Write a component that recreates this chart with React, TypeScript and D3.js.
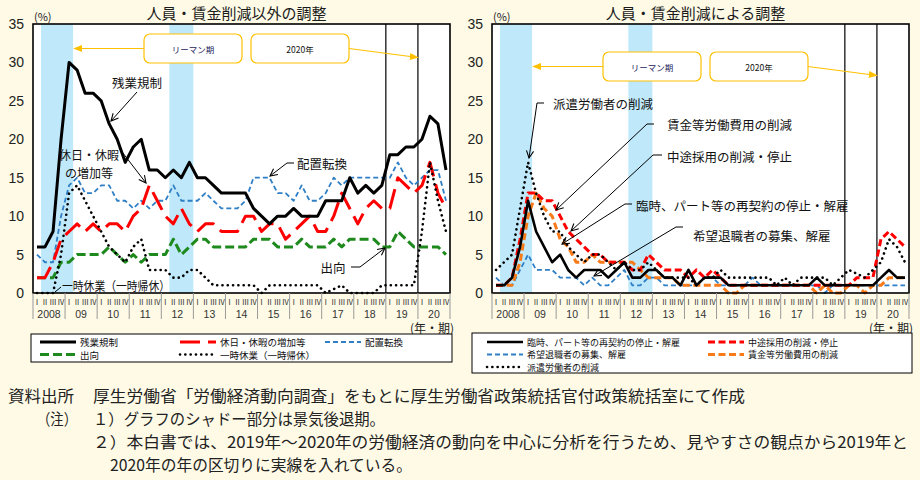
import * as d3 from 'd3';

// quarters 2008Q1 .. 2020Q4
const YEARS = ['2008', '09', '10', '11', '12', '13', '14', '15', '16', '17', '18', '19', '20'];
const Q_LABELS = ['Ⅰ', 'Ⅱ', 'Ⅲ', 'Ⅳ'];
const QUARTERS = YEARS.flatMap((y) => Q_LABELS.map((q) => `${y}${q}`));
const Y_TICKS = [0, 5, 10, 15, 20, 25, 30, 35];
const RECESSIONS = [['2008Ⅱ', '09Ⅰ'], ['12Ⅱ', '12Ⅳ']];
const BREAKS = ['19Ⅰ', '20Ⅰ'];

// 人員・賃金削減以外の調整 (%)
const ZANGYO = [6, 6, 8, 20, 30, 29, 26, 26, 25, 22, 20, 17, 19, 20, 16, 16, 15, 16, 15, 17, 15, 15, 14, 13, 13, 13, 13, 11, 10, 9, 10, 10, 11, 10, 10, 10, 12, 12, 12, 15, 13, 14, 13, 14, 18, 18, 19, 19, 20, 23, 22, 16];
const KYUJITSU = [2, 2, 4, 7, 8, 9, 8, 9, 8, 9, 9, 8, 10, 11, 14, 12, 10, 9, 11, 9, 8, 9, 9, 8, 8, 8, 10, 10, 8, 9, 9, 7, 8, 9, 10, 8, 8, 10, 13, 11, 9, 11, 12, 11, 11, 15, 14, 13, 14, 17, 13, 11];
const HAICHI = [5, 4, 4, 10, 14, 15, 13, 13, 14, 14, 12, 12, 11, 12, 11, 12, 12, 14, 12, 12, 12, 13, 12, 11, 11, 11, 12, 15, 15, 15, 13, 13, 12, 14, 12, 12, 13, 15, 14, 15, 15, 15, 15, 15, 15, 17, 15, 14, 15, 16, 16, 12];
const SHUKKO = [2, 2, 2, 4, 4, 5, 5, 5, 5, 6, 5, 4, 5, 4, 5, 5, 5, 7, 5, 6, 7, 7, 6, 6, 6, 6, 6, 7, 7, 7, 6, 6, 6, 7, 6, 6, 6, 7, 6, 7, 7, 7, 7, 6, 6, 8, 7, 6, 6, 6, 6, 5];
const ICHIJI = [0, 0, 0, 5, 13, 14, 12, 10, 8, 6, 5, 4, 6, 7, 3, 3, 3, 2, 2, 3, 3, 2, 1, 1, 1, 1, 1, 1, 0, 1, 1, 1, 1, 1, 1, 1, 0, 0.5, 1, 0, 0, 0, 0, 1, 1, 1, 1, 1, 8, 17, 12, 8];

// 人員・賃金削減による調整 (%)
const RINJI = [1, 1, 2, 6, 12, 8, 6, 4, 5, 3, 2, 3, 3, 3, 2, 3, 4, 2, 2, 3, 3, 2, 2, 1, 3, 1, 2, 2, 2, 1, 1, 1, 1, 1, 1, 1, 1, 1, 1, 1, 2, 1, 1, 1, 1, 1, 1, 1, 2, 3, 2, 2];
const CHUTO = [1, 1, 2, 7, 13, 13, 12, 12, 10, 8, 7, 6, 5, 5, 4, 4, 4, 3, 3, 5, 4, 3, 3, 3, 2, 3, 2, 3, 2, 1, 1, 1, 1, 1, 1, 1, 1, 1, 1, 1, 1, 1, 1, 1, 1, 2, 2, 2, 7, 8, 7, 6];
const KIBO = [2, 1, 1, 3, 5, 3, 3, 3, 2, 2, 2, 1, 2, 1, 1, 2, 3, 1, 1, 2, 2, 1, 1, 1, 1, 1, 2, 2, 1, 1, 1, 1, 2, 1, 1, 1, 1, 1, 1, 1, 1, 0, 1, 1, 1, 1, 1, 1, 1, 1, 1, 1];
const CHINGIN = [1, 1, 1, 4, 10, 13, 11, 10, 7, 6, 4, 4, 5, 4, 4, 4, 4, 4, 3, 2, 2, 2, 2, 1, 1, 1, 1, 1, 1, 0, 0, 1, 1, 1, 1, 1, 1, 1, 1, 1, 0, 1, 0, 0, 1, 1, 0, 1, 1, 2, 2, 2];
const HAKEN = [3, 4, 5, 11, 17, 13, 10, 8, 8, 6, 5, 4, 5, 5, 4, 3, 4, 3, 3, 4, 3, 2, 2, 2, 2, 1, 2, 2, 3, 2, 2, 2, 2, 2, 2, 1, 2, 1, 2, 2, 2, 2, 1, 2, 3, 2.5, 2, 3, 4, 7, 6, 4];

const BG = '#FEFAE6';
const JP = "'Noto Sans CJK JP', 'Noto Sans', sans-serif";
const NUM = "'Liberation Sans', Arial, sans-serif";
const TOP = 24;
const BOTTOM = 293;
const GOLD = '#FFC000';

type Style = { color: string; width: number; dash?: string; cap?: 'round' | 'butt' };
type Series = { name: string; values: number[]; style: Style };

const DOT: Style = { color: '#000', width: 2.6, dash: '0.1 5.2', cap: 'round' };

const LEFT_SERIES: Series[] = [
  { name: '出向', values: SHUKKO, style: { color: '#1E8A1E', width: 3, dash: '9 4' } },
  { name: '配置転換', values: HAICHI, style: { color: '#2F7FC6', width: 1.8, dash: '5 3' } },
  { name: '休日・休暇の増加等', values: KYUJITSU, style: { color: '#FF0000', width: 3, dash: '20 8' } },
  { name: '一時休業（一時帰休）', values: ICHIJI, style: DOT },
  { name: '残業規制', values: ZANGYO, style: { color: '#000', width: 3 } },
];

const RIGHT_SERIES: Series[] = [
  { name: '希望退職者の募集、解雇', values: KIBO, style: { color: '#2F7FC6', width: 1.8, dash: '5 3' } },
  { name: '賃金等労働費用の削減', values: CHINGIN, style: { color: '#F87A18', width: 3, dash: '7 3.5' } },
  { name: '中途採用の削減・停止', values: CHUTO, style: { color: '#FF0000', width: 3, dash: '7 3.5' } },
  { name: '派遣労働者の削減', values: HAKEN, style: DOT },
  { name: '臨時、パート等の再契約の停止・解雇', values: RINJI, style: { color: '#000', width: 2.6 } },
];

function makeScales(x0: number, x1: number) {
  const x = d3.scaleBand<string>().domain(QUARTERS).range([x0, x1]);
  const y = d3.scaleLinear().domain([0, 35]).range([BOTTOM, TOP]);
  const cx = (i: number) => (x(QUARTERS[i]) as number) + x.bandwidth() / 2;
  return { x, y, cx };
}

function LineSample({ x1, x2, y, style }: { x1: number; x2: number; y: number; style: Style }) {
  return (
    <line
      x1={x1}
      x2={x2}
      y1={y}
      y2={y}
      stroke={style.color}
      strokeWidth={style.width}
      strokeDasharray={style.dash}
      strokeLinecap={style.cap || 'butt'}
    />
  );
}

function Panel({ x0, x1, title, series, boxY }: { x0: number; x1: number; title: string; series: Series[]; boxY: number }) {
  const { x, y, cx } = makeScales(x0, x1);
  const bw = x.bandwidth();
  const line = d3
    .line<number>()
    .x((_, i) => cx(i))
    .y((v) => y(v));
  const yearX = YEARS.map((yr) => x(`${yr}Ⅰ`) as number);
  const lehmanEnd = (x(RECESSIONS[0][1]) as number) + bw;
  const x2020 = x('20Ⅰ') as number;
  const boxMid = boxY + 14.5;

  return (
    <g>
      <text x={(x0 + x1) / 2 - 5} y={12} textAnchor="middle" dominantBaseline="central" fontSize={15} fontFamily={JP} fill="#1a1a1a">
        {title}
      </text>
      <text x={x0 + 1} y={16} dominantBaseline="central" fontSize={11} fontFamily={JP} fill="#222">
        (%)
      </text>
      {Y_TICKS.map((t) => (
        <text key={t} x={x0 - 9} y={y(t)} textAnchor="end" dominantBaseline="central" fontSize={14} fontFamily={NUM} fill="#222">
          {t}
        </text>
      ))}
      <rect x={x0} y={TOP} width={x1 - x0} height={BOTTOM - TOP} fill="#fff" />
      {RECESSIONS.map(([s, e]) => (
        <rect
          key={s}
          x={x(s)}
          y={TOP}
          width={(x(e) as number) + bw - (x(s) as number)}
          height={BOTTOM - TOP}
          fill="#BFE9FA"
        />
      ))}
      {BREAKS.map((b) => (
        <line key={b} x1={x(b)} x2={x(b)} y1={TOP} y2={BOTTOM} stroke="#000" strokeWidth={1.2} />
      ))}
      {series.map((s) => (
        <path
          key={s.name}
          d={line(s.values) || ''}
          fill="none"
          stroke={s.style.color}
          strokeWidth={s.style.width}
          strokeDasharray={s.style.dash}
          strokeLinecap={s.style.cap || 'butt'}
          strokeLinejoin="round"
        />
      ))}
      <rect x={x0} y={TOP} width={x1 - x0} height={BOTTOM - TOP} fill="none" stroke="#000" strokeWidth={1.6} />

      {/* x axis: quarters + years */}
      {QUARTERS.map((q, i) => (
        <text key={q} x={cx(i)} y={301.5} textAnchor="middle" dominantBaseline="central" fontSize={7.5} fontFamily={JP} fill="#333">
          {Q_LABELS[i % 4]}
        </text>
      ))}
      {[...yearX, x1].map((xx, i) => (
        <line key={i} x1={xx} x2={xx} y1={BOTTOM} y2={319} stroke="#999" strokeWidth={1} />
      ))}
      {YEARS.map((yr, i) => (
        <text key={yr} x={yearX[i] + bw * 2} y={314} textAnchor="middle" dominantBaseline="central" fontSize={10.5} fontFamily={NUM} fill="#333">
          {yr}
        </text>
      ))}
      <text x={x1 + 4} y={327} textAnchor="end" dominantBaseline="central" fontSize={12} fontFamily={JP} fill="#222">
        (年・期)
      </text>

      {/* callouts */}
      <rect x={x0 + 111} y={boxY} width={98} height={29} rx={6} fill="#fff" stroke={GOLD} strokeWidth={1.2} />
      <text x={x0 + 160} y={boxMid} textAnchor="middle" dominantBaseline="central" fontSize={8.5} fontFamily={JP} fill="#1a1a5a">
        リーマン期
      </text>
      <line x1={x0 + 111} x2={lehmanEnd + 1} y1={boxMid} y2={boxMid} stroke={GOLD} strokeWidth={1.2} markerEnd="url(#gold)" />
      <rect x={x0 + 218} y={boxY} width={98} height={29} rx={6} fill="#fff" stroke={GOLD} strokeWidth={1.2} />
      <text x={x0 + 267} y={boxMid} textAnchor="middle" dominantBaseline="central" fontSize={8.5} fontFamily={JP} fill="#111">
        2020年
      </text>
      <line x1={x0 + 316} x2={x2020} y1={boxMid} y2={boxMid + 9} stroke={GOLD} strokeWidth={1.2} markerEnd="url(#gold)" />
    </g>
  );
}

function Note({ x, y, text, len }: { x: number; y: number; text: string; len?: number }) {
  return (
    <text
      x={x}
      y={y}
      dominantBaseline="central"
      fontSize={15.5}
      fontFamily="'Noto Sans CJK JP', serif"
      fill="#222"
      textLength={len}
      lengthAdjust={len ? 'spacingAndGlyphs' : undefined}
    >
      {text}
    </text>
  );
}

function Label({ x, y, text, anchor, len, size }: { x: number; y: number; text: string; anchor?: string; len?: number; size?: number }) {
  return (
    <text
      x={x}
      y={y}
      textAnchor={anchor || 'start'}
      dominantBaseline="central"
      fontSize={size || 12.5}
      fontFamily={JP}
      fill="#111"
      textLength={len}
      lengthAdjust={len ? 'spacingAndGlyphs' : undefined}
    >
      {text}
    </text>
  );
}

function Leader({ pts }: { pts: [number, number][] }) {
  return <polyline points={pts.map((p) => p.join(',')).join(' ')} fill="none" stroke="#000" strokeWidth={1} markerEnd="url(#vhead)" />;
}

function Legend({ items, size }: { items: { s: Series; x: number; y: number }[]; size: number }) {
  return (
    <g>
      {items.map(({ s, x, y }) => (
        <g key={s.name}>
          <LineSample x1={x} x2={x + 36} y={y} style={s.style} />
          <text x={x + 40} y={y} dominantBaseline="central" fontSize={size} fontFamily={JP} fill="#111">
            {s.name}
          </text>
        </g>
      ))}
    </g>
  );
}

export default function App() {
  return (
    <div style={{ position: 'absolute', left: 0, top: 0, width: 920, height: 480, background: BG }}>
      <svg width={920} height={480} style={{ display: 'block' }}>
        <defs>
          <marker id="gold" viewBox="0 0 10 10" refX="9" refY="5" markerWidth="9" markerHeight="9" markerUnits="userSpaceOnUse" orient="auto">
            <path d="M0,1 L10,5 L0,9 Z" fill={GOLD} />
          </marker>
          <marker id="vhead" viewBox="0 0 10 10" refX="9" refY="5" markerWidth="9" markerHeight="9" markerUnits="userSpaceOnUse" orient="auto">
            <path d="M1,1 L9,5 L1,9" fill="none" stroke="#000" strokeWidth={1.2} />
          </marker>
        </defs>
        <rect width={920} height={480} fill={BG} />

        <Panel x0={33} x1={450} title="人員・賃金削減以外の調整" series={LEFT_SERIES} boxY={34} />
        <Panel x0={492} x1={909} title="人員・賃金削減による調整" series={RIGHT_SERIES} boxY={52} />

        {/* left annotations */}
        <Label x={137} y={82} text="残業規制" anchor="middle" />
        <Leader pts={[[137, 92], [111, 121]]} />
        <Label x={89} y={154} text="休日・休暇" anchor="middle" size={12} />
        <Label x={89} y={172} text="の増加等" anchor="middle" size={12} />
        <Leader pts={[[119, 148], [146, 183]]} />
        <Label x={297} y={163} text="配置転換" />
        <Leader pts={[[294, 163], [287, 163], [270, 176]]} />
        <Label x={333} y={267} text="出向" anchor="middle" />
        <Leader pts={[[351, 267], [360, 267], [385, 248]]} />
        <Label x={62} y={285} text="一時休業（一時帰休）" len={108} />
        <line x1={55} y1={292} x2={61} y2={287} stroke="#000" strokeWidth={1} />

        {/* right annotations */}
        <Label x={553} y={103} text="派遣労働者の削減" />
        <Leader pts={[[544, 103], [537, 103], [529, 158]]} />
        <Label x={667} y={124} text="賃金等労働費用の削減" />
        <Leader pts={[[654, 124], [647, 124], [556, 210]]} />
        <Label x={667} y={156} text="中途採用の削減・停止" />
        <Leader pts={[[662, 155], [653, 155], [571, 231]]} />
        <Label x={636} y={205} text="臨時、パート等の再契約の停止・解雇" />
        <Leader pts={[[632, 204], [625, 204], [562, 244]]} />
        <Label x={693} y={235} text="希望退職者の募集、解雇" />
        <Leader pts={[[683, 227], [676, 227], [594, 276]]} />

        {/* left legend */}
        <rect x={31} y={334} width={421} height={28} fill="#fff" stroke="#000" strokeWidth={1} />
        <Legend
          size={9.5}
          items={[
            { s: LEFT_SERIES[4], x: 40, y: 342 },
            { s: LEFT_SERIES[2], x: 180, y: 342 },
            { s: LEFT_SERIES[1], x: 325, y: 342 },
            { s: LEFT_SERIES[0], x: 40, y: 354.5 },
            { s: LEFT_SERIES[3], x: 180, y: 354.5 },
          ]}
        />

        {/* right legend */}
        <rect x={472} y={333} width={440} height={40} fill="#fff" stroke="#000" strokeWidth={1} />
        <Legend
          size={9}
          items={[
            { s: RIGHT_SERIES[4], x: 487, y: 342 },
            { s: RIGHT_SERIES[2], x: 708, y: 342 },
            { s: RIGHT_SERIES[0], x: 487, y: 354.5 },
            { s: RIGHT_SERIES[1], x: 708, y: 354.5 },
            { s: RIGHT_SERIES[3], x: 487, y: 367 },
          ]}
        />

        {/* notes */}
        <Note x={8} y={395} text="資料出所" len={66} />
        <Note x={93} y={395} text="厚生労働省「労働経済動向調査」をもとに厚生労働省政策統括官付政策統括室にて作成" len={652} />
        <Note x={37} y={418} text="（注）" len={40} />
        <Note x={93} y={418} text="１）グラフのシャドー部分は景気後退期。" len={292} />
        <Note x={93} y={441} text="２）本白書では、2019年～2020年の労働経済の動向を中心に分析を行うため、見やすさの観点から2019年と" len={815} />
        <Note x={110} y={464} text="2020年の年の区切りに実線を入れている。" len={302} />
      </svg>
    </div>
  );
}
